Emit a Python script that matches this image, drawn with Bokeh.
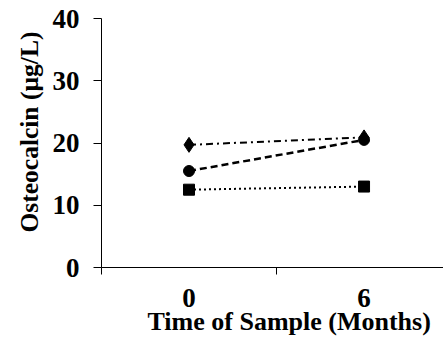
from bokeh.plotting import figure
from bokeh.models import FixedTicker, Range1d, Title
from bokeh.embed import file_html
from bokeh.resources import INLINE

months = ["0", "6"]
positions = [0, 1]
series_diamond = [19.7, 20.9]
series_circle = [15.5, 20.5]
series_square = [12.5, 13.0]
y_ticks = [0, 10, 20, 30, 40]

FONT = "Liberation Serif"

p = figure(width=443, height=338, output_backend="svg", toolbar_location=None,
           x_range=Range1d(-0.5, 1.454), y_range=Range1d(0, 40),
           min_border_left=101, min_border_right=0, min_border_top=18, min_border_bottom=71)
p.outline_line_color = None
p.xgrid.visible = False
p.ygrid.visible = False
p.background_fill_color = "white"

# lines
p.line(positions, series_diamond, line_color="black", line_width=2, line_dash="7 4 2 4")
p.line(positions, series_circle, line_color="black", line_width=2.5, line_dash="7 4")
p.line(positions, series_square, line_color="black", line_width=2, line_dash="2 3")
p.scatter(positions, series_diamond, marker="diamond", size=15, color="black")
p.scatter(positions, series_circle, marker="circle", size=11, color="black")
p.scatter(positions, series_square, marker="square", size=11, color="black")

# x axis
p.xaxis.ticker = FixedTicker(ticks=positions, minor_ticks=[-0.5, 0.5, 1.5])
p.xaxis.major_label_overrides = {pos: m for pos, m in zip(positions, months)}
p.xaxis.major_tick_line_color = None
p.xaxis.minor_tick_line_color = "black"
p.xaxis.minor_tick_in = 0
p.xaxis.minor_tick_out = 7
p.xaxis.axis_line_color = "black"
p.xaxis.major_label_text_font = FONT
p.xaxis.major_label_text_font_style = "bold"
p.xaxis.major_label_text_font_size = "27px"
p.xaxis.major_label_standoff = 14
p.xaxis.major_label_text_color = "black"

# y axis
p.yaxis.ticker = FixedTicker(ticks=y_ticks, minor_ticks=[])
p.yaxis.major_tick_in = 0
p.yaxis.major_tick_out = 8
p.yaxis.major_tick_line_color = "black"
p.yaxis.axis_line_color = "black"
p.yaxis.major_label_text_font = FONT
p.yaxis.major_label_text_font_style = "bold"
p.yaxis.major_label_text_font_size = "27px"
p.yaxis.major_label_standoff = 14
p.yaxis.major_label_text_color = "black"

ytitle = Title(text="Osteocalcin (µg/L)", align="left", offset=35,
               text_font=FONT, text_font_style="bold", text_font_size="25.5px",
               text_color="black", standoff=11)
p.add_layout(ytitle, "left")

xtitle = Title(text="Time of Sample (Months)", align="left", offset=46,
               text_font=FONT, text_font_style="bold", text_font_size="26px",
               text_color="black", standoff=-10)
p.add_layout(xtitle, "below")

open("out.html", "w").write(file_html(p, INLINE))
